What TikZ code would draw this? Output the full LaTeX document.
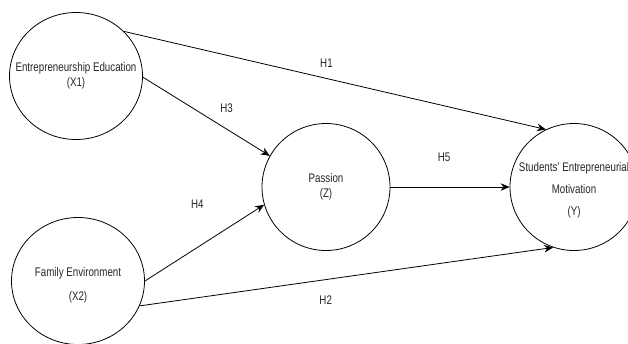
\documentclass[tikz,border=0pt]{standalone}
\usepackage{fontspec}
\setmainfont{Liberation Sans}[FakeStretch=0.78]
\usetikzlibrary{shapes.geometric,arrows.meta}

\begin{document}
\begin{tikzpicture}[x=1pt, y=-1pt, >={Stealth[length=9pt,width=7.5pt]}, line width=0.8pt,
  latent/.style={draw, ellipse, inner sep=0pt, minimum width=133pt, minimum height=127pt},
  txt/.style={align=center, text=black!85, font=\fontsize{12.5}{14}\selectfont},
  hyp/.style={text=black!85, font=\fontsize{12.5}{14}\selectfont}]
  \useasboundingbox (0,0) rectangle (628,343);
  \clip (0,0) rectangle (628,343);
  \node[latent, label={[txt]center:Entrepreneurship Education\\[1pt](X1)}] (edu) at (76,76) {};
  \node[latent, label={[txt, yshift=-4pt]center:Family Environment\\[10pt](X2)}] (fam) at (78,281) {};
  \node[latent, minimum width=128pt, label={[txt]center:Passion\\[1pt](Z)}] (pas) at (326,187) {};
  \node[latent, minimum width=128pt, label={[txt, yshift=-3pt]center:Students' Entrepreneurial\\[8pt]Motivation\\[8pt](Y)}] (mot) at (574,187) {};
  \draw[->] (edu.43) -- node[hyp, pos=.48, yshift=15pt] {H1} (mot.116);
  \draw[->] (edu.-1) -- node[hyp, pos=.66, yshift=21pt] {H3} (pas.151);
  \draw[->] (fam.0) -- node[hyp, pos=.44, yshift=43pt] {H4} (pas.196);
  \draw[->] (fam.-22) -- node[hyp, pos=.45, yshift=-21pt] {H2} (mot.-109);
  \draw[->] (pas.east) -- node[hyp, pos=.45, yshift=30pt] {H5} (mot.west);
\end{tikzpicture}
\end{document}
